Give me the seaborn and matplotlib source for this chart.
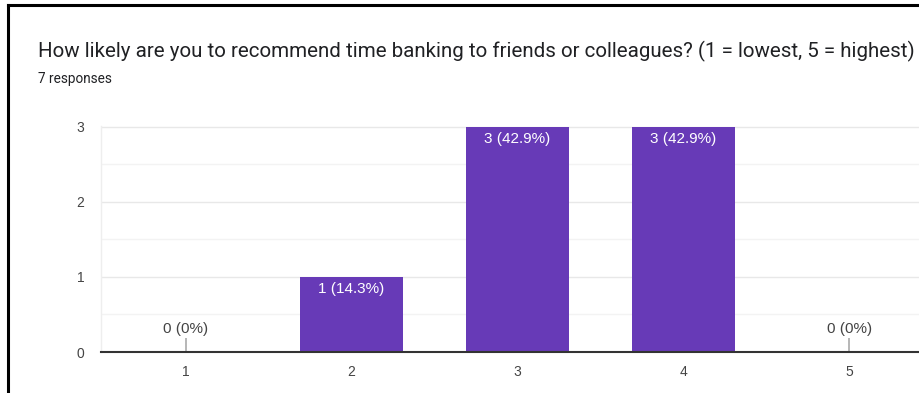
import matplotlib
matplotlib.use("Agg")
import matplotlib.pyplot as plt
import seaborn as sns
from matplotlib.lines import Line2D

title = "How likely are you to recommend time banking to friends or colleagues? (1 = lowest, 5 = highest)"
subtitle = "7 responses"
categories = ["1", "2", "3", "4", "5"]
counts = [0, 1, 3, 3, 0]
labels = ["0 (0%)", "1 (14.3%)", "3 (42.9%)", "3 (42.9%)", "0 (0%)"]
yticks = [0, 1, 2, 3]

BAR = "#673ab7"
TXT = "#444444"

sns.set_theme(style="white")
plt.rcParams["font.family"] = ["Liberation Sans", "DejaVu Sans"]

fig = plt.figure(figsize=(9.2, 3.93), dpi=100)
W, H = 920, 393
ax = fig.add_axes([101 / W, 1 - 352 / H, (932 - 101) / W, (352 - 126) / H])

sns.barplot(x=categories, y=counts, color=BAR, width=0.62, ax=ax,
            linewidth=0, saturation=1)

ax.set_xlim(-0.51, 4.5)
ax.set_ylim(0, 3.01)
ax.set_yticks(yticks)
ax.set_yticks([0.5, 1.5, 2.5], minor=True)
ax.set_yticklabels([str(t) for t in yticks])
ax.grid(axis="y", which="major", color="#e8e8e8", linewidth=1)
ax.grid(axis="y", which="minor", color="#f3f3f3", linewidth=1)
ax.grid(axis="x", visible=False)
ax.set_axisbelow(True)
ax.set_xlabel("")
ax.set_ylabel("")

for s in ["top", "right"]:
    ax.spines[s].set_visible(False)
ax.spines["left"].set_color("#eeeeee")
ax.spines["left"].set_linewidth(1)
ax.spines["bottom"].set_color("#333333")
ax.spines["bottom"].set_linewidth(1.5)
ax.spines["bottom"].set_zorder(5)

ax.tick_params(axis="both", which="both", length=0, labelsize=10, labelcolor=TXT)
ax.tick_params(axis="y", pad=12)
ax.tick_params(axis="x", pad=9)

for i, (c, lab) in enumerate(zip(counts, labels)):
    if c > 0:
        ax.annotate(lab, (i, c), xytext=(0, -4), textcoords="offset points",
                    ha="center", va="top", color="white", fontsize=11)
    else:
        ax.vlines(i, 0, 0.19, color="#aaaaaa", linewidth=1.2, zorder=4)
        ax.annotate(lab, (i, 0.19), xytext=(0, 1), textcoords="offset points",
                    ha="center", va="bottom", color=TXT, fontsize=11)

fig.text(38 / W, 1 - 57 / H, title, fontsize=14.8, color="#202124",
         family=["Roboto", "DejaVu Sans"], ha="left", va="baseline")
fig.text(38 / W, 1 - 83 / H, subtitle, fontsize=9.8, color="#202124",
         family=["Roboto", "DejaVu Sans"], ha="left", va="baseline")

# frame border (left and top)
fig.add_artist(Line2D([8 / W, 8 / W], [0, 1 - 5 / H], transform=fig.transFigure,
                      color="black", linewidth=2.2, solid_capstyle="projecting"))
fig.add_artist(Line2D([8 / W, 1.01], [1 - 5 / H, 1 - 5 / H], transform=fig.transFigure,
                      color="black", linewidth=2.2, solid_capstyle="projecting"))

fig.savefig("out.png", dpi=100)
